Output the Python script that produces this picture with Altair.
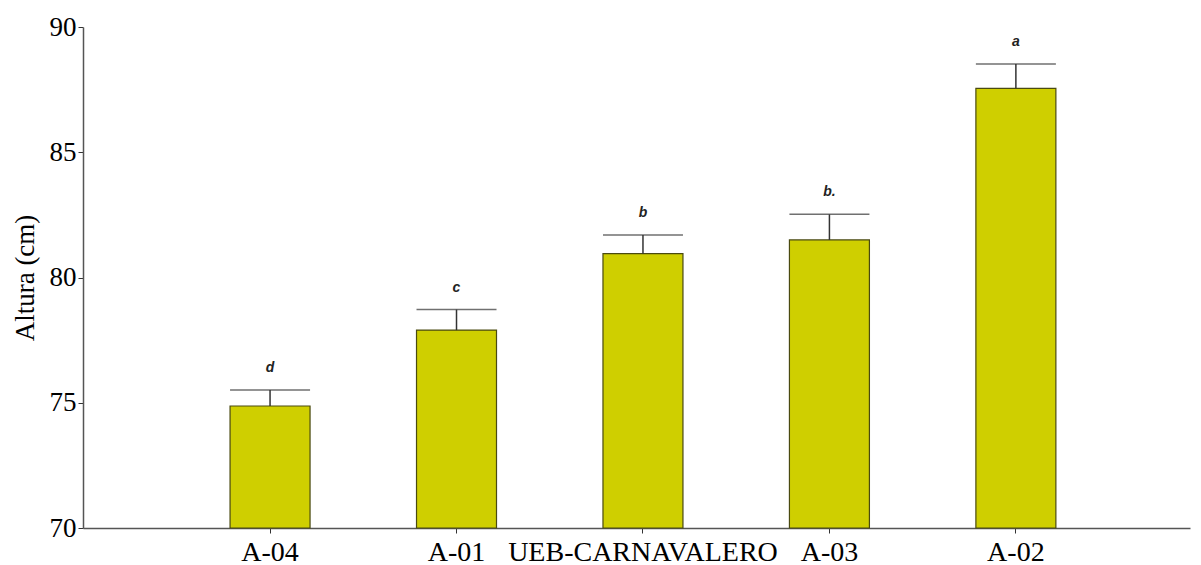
import altair as alt
import pandas as pd

categories = ["A-04", "A-01", "UEB-CARNAVALERO", "A-03", "A-02"]
means = [74.87, 77.90, 80.95, 81.50, 87.55]
upper = [75.51, 78.72, 81.70, 82.52, 88.52]
letters = ["d", "c", "b", "b.", "a"]
y_ticks = [70, 75, 80, 85, 90]

df = pd.DataFrame({"cat": categories, "mean": means, "upper": upper, "letter": letters})

x_enc = alt.X("cat:N", sort=categories, title=None,
              scale=alt.Scale(paddingInner=0.571, paddingOuter=0.754, align=0.523),
              axis=alt.Axis(labelAngle=0, labelFont="Liberation Serif", labelFontSize=28,
                            labelColor="black", domainColor="#555555", tickColor="#333333",
                            tickSize=5, labelPadding=5, domainWidth=1.5, labelLimit=0))
y_scale = alt.Scale(domain=[70, 90], nice=False, zero=False)
y_axis = alt.Axis(values=y_ticks, grid=False, labelFont="Liberation Serif", labelFontSize=27,
                  labelColor="black", domainColor="#555555", tickColor="#333333", tickSize=5,
                  labelPadding=2, title="Altura (cm)", titleFont="Liberation Serif",
                  titleFontSize=27, titleFontWeight="normal", titleColor="black",
                  titlePadding=10, domainWidth=1.5)

base = alt.Chart(df)

bars = base.mark_bar(color="#CFCF00", stroke="#4a4a10", strokeWidth=1.2).encode(
    x=x_enc,
    y=alt.Y("mean:Q", scale=y_scale, axis=y_axis),
    y2=alt.datum(70),
)

err = base.mark_rule(color="#333333", strokeWidth=1.5).encode(
    x=alt.X("cat:N", sort=categories),
    y="mean:Q",
    y2="upper:Q",
)

caps = base.mark_tick(color="#333333", thickness=1.5, size=80, orient="horizontal").encode(
    x=alt.X("cat:N", sort=categories),
    y="upper:Q",
)

labels = base.mark_text(font="Liberation Sans", fontSize=14, fontStyle="italic",
                        fontWeight="bold", color="#222222", baseline="bottom", dy=-15).encode(
    x=alt.X("cat:N", sort=categories),
    y="upper:Q",
    text="letter:N",
)

chart = alt.layer(bars, err, caps, labels).properties(
    width=1107, height=501,
    autosize=alt.AutoSizeParams(type="none"),
    padding={"left": 75, "top": 19, "right": 3, "bottom": 37},
).configure(background="white").configure_view(stroke=None, strokeWidth=0)

chart.save("out.html", embed_options={"renderer": "svg", "actions": False})
